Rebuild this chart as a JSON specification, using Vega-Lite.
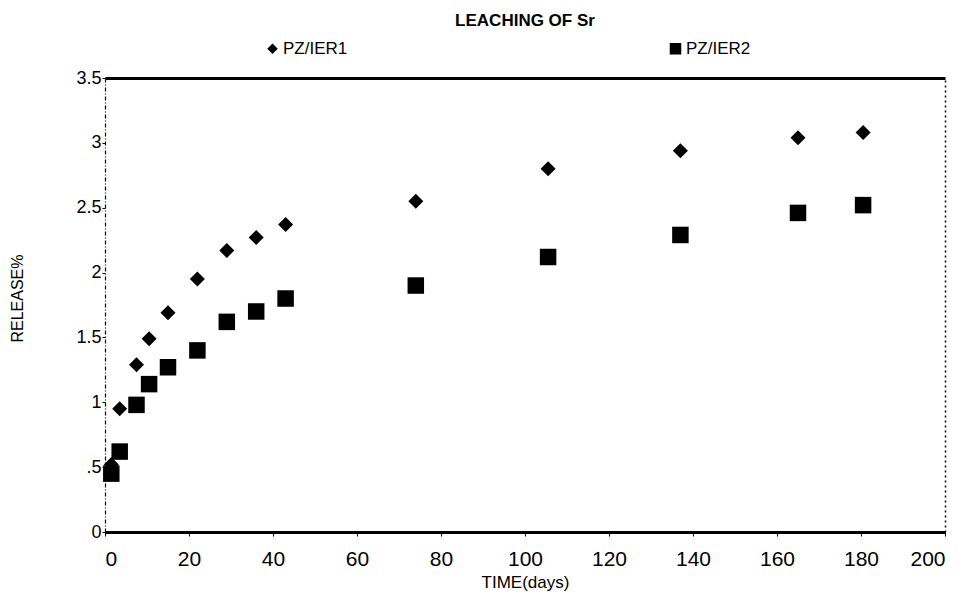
{
  "$schema": "https://vega.github.io/schema/vega-lite/v6.json",
  "width": 840,
  "height": 454,
  "autosize": "none",
  "padding": {"left": 105, "top": 78, "right": 23, "bottom": 71},
  "background": "white",
  "config": {
    "view": {"stroke": null},
    "font": "Liberation Sans",
    "axis": {"grid": false, "domainColor": "black", "tickColor": "black", "labelColor": "black", "titleColor": "black", "labelFont": "Liberation Sans", "titleFont": "Liberation Sans"},
    "legend": {"labelFont": "Liberation Sans"}
  },
  "title": {
    "text": "LEACHING OF Sr",
    "fontSize": 17,
    "fontWeight": "bold",
    "font": "Liberation Sans",
    "color": "black",
    "anchor": "middle",
    "offset": 10
  },
  "data": {
    "values": [
      {"series": "PZ/IER1", "time": 1.5, "release": 0.52},
      {"series": "PZ/IER1", "time": 3.5, "release": 0.95},
      {"series": "PZ/IER1", "time": 7.5, "release": 1.29},
      {"series": "PZ/IER1", "time": 10.5, "release": 1.49},
      {"series": "PZ/IER1", "time": 15, "release": 1.69},
      {"series": "PZ/IER1", "time": 22, "release": 1.95},
      {"series": "PZ/IER1", "time": 29, "release": 2.17},
      {"series": "PZ/IER1", "time": 36, "release": 2.27},
      {"series": "PZ/IER1", "time": 43, "release": 2.37},
      {"series": "PZ/IER1", "time": 74, "release": 2.55},
      {"series": "PZ/IER1", "time": 105.5, "release": 2.80},
      {"series": "PZ/IER1", "time": 137, "release": 2.94},
      {"series": "PZ/IER1", "time": 165, "release": 3.04},
      {"series": "PZ/IER1", "time": 180.5, "release": 3.08},
      {"series": "PZ/IER2", "time": 1.5, "release": 0.45},
      {"series": "PZ/IER2", "time": 3.5, "release": 0.62},
      {"series": "PZ/IER2", "time": 7.5, "release": 0.98},
      {"series": "PZ/IER2", "time": 10.5, "release": 1.14},
      {"series": "PZ/IER2", "time": 15, "release": 1.27},
      {"series": "PZ/IER2", "time": 22, "release": 1.40},
      {"series": "PZ/IER2", "time": 29, "release": 1.62},
      {"series": "PZ/IER2", "time": 36, "release": 1.70},
      {"series": "PZ/IER2", "time": 43, "release": 1.80},
      {"series": "PZ/IER2", "time": 74, "release": 1.90},
      {"series": "PZ/IER2", "time": 105.5, "release": 2.12},
      {"series": "PZ/IER2", "time": 137, "release": 2.29},
      {"series": "PZ/IER2", "time": 165, "release": 2.46},
      {"series": "PZ/IER2", "time": 180.5, "release": 2.52}
    ]
  },
  "resolve": {"axis": {"x": "independent", "y": "independent"}},
  "layer": [
    {
      "mark": {"type": "point", "filled": true, "opacity": 1, "color": "black", "strokeWidth": 0, "size": 225},
      "encoding": {
        "x": {
          "field": "time", "type": "quantitative",
          "scale": {"domain": [0, 200], "nice": false, "zero": true},
          "axis": {
            "orient": "bottom",
            "values": [0, 20, 40, 60, 80, 100, 120, 140, 160, 180, 200],
            "domainWidth": 3,
            "tickSize": 4,
            "labelPadding": 12,
            "labelFontSize": 21,
            "labelBaseline": "top",
            "title": "TIME(days)",
            "titleFontSize": 17,
            "titleFontWeight": "normal",
            "titleBaseline": "top",
            "titleY": 42
          }
        },
        "y": {
          "field": "release", "type": "quantitative",
          "scale": {"domain": [0, 3.5], "nice": false},
          "axis": {
            "orient": "left",
            "values": [0, 0.5, 1, 1.5, 2, 2.5, 3, 3.5],
            "labelExpr": "datum.value == 0.5 ? '.5' : format(datum.value, '~g')",
            "domainWidth": 1.2,
            "domainDash": [4, 2, 1, 2],
            "tickSize": 3,
            "labelPadding": 1,
            "labelFontSize": 18,
            "title": "RELEASE%",
            "titleFontSize": 16,
            "titleFontWeight": "normal",
            "titleAngle": 270,
            "titleBaseline": "bottom",
            "titleAlign": "center",
            "titleX": -80,
            "titleY": 220
          }
        },
        "shape": {
          "field": "series", "type": "nominal",
          "scale": {"domain": ["PZ/IER1", "PZ/IER2"], "range": ["M-1,0L0,-1L1,0L0,1Z", "M-1.1,-1.1L1.1,-1.1L1.1,1.1L-1.1,1.1Z"]},
          "legend": {
            "title": null,
            "orient": "none",
            "direction": "horizontal",
            "legendX": 159,
            "legendY": -38,
            "columnPadding": 319,
            "symbolSize": 110,
            "symbolType": "circle",
            "symbolFillColor": "black",
            "symbolStrokeColor": "black",
            "symbolStrokeWidth": 0,
            "labelFontSize": 17,
            "labelColor": "black",
            "labelOffset": 2
          }
        }
      }
    },
    {
      "mark": {"type": "point", "opacity": 0},
      "encoding": {
        "x": {
          "field": "time", "type": "quantitative",
          "axis": {"orient": "top", "labels": false, "ticks": false, "domainWidth": 3, "title": null}
        },
        "y": {
          "field": "release", "type": "quantitative",
          "axis": {"orient": "right", "labels": false, "ticks": false, "domainWidth": 1.5, "domainDash": [2, 3], "title": null}
        }
      }
    }
  ]
}
